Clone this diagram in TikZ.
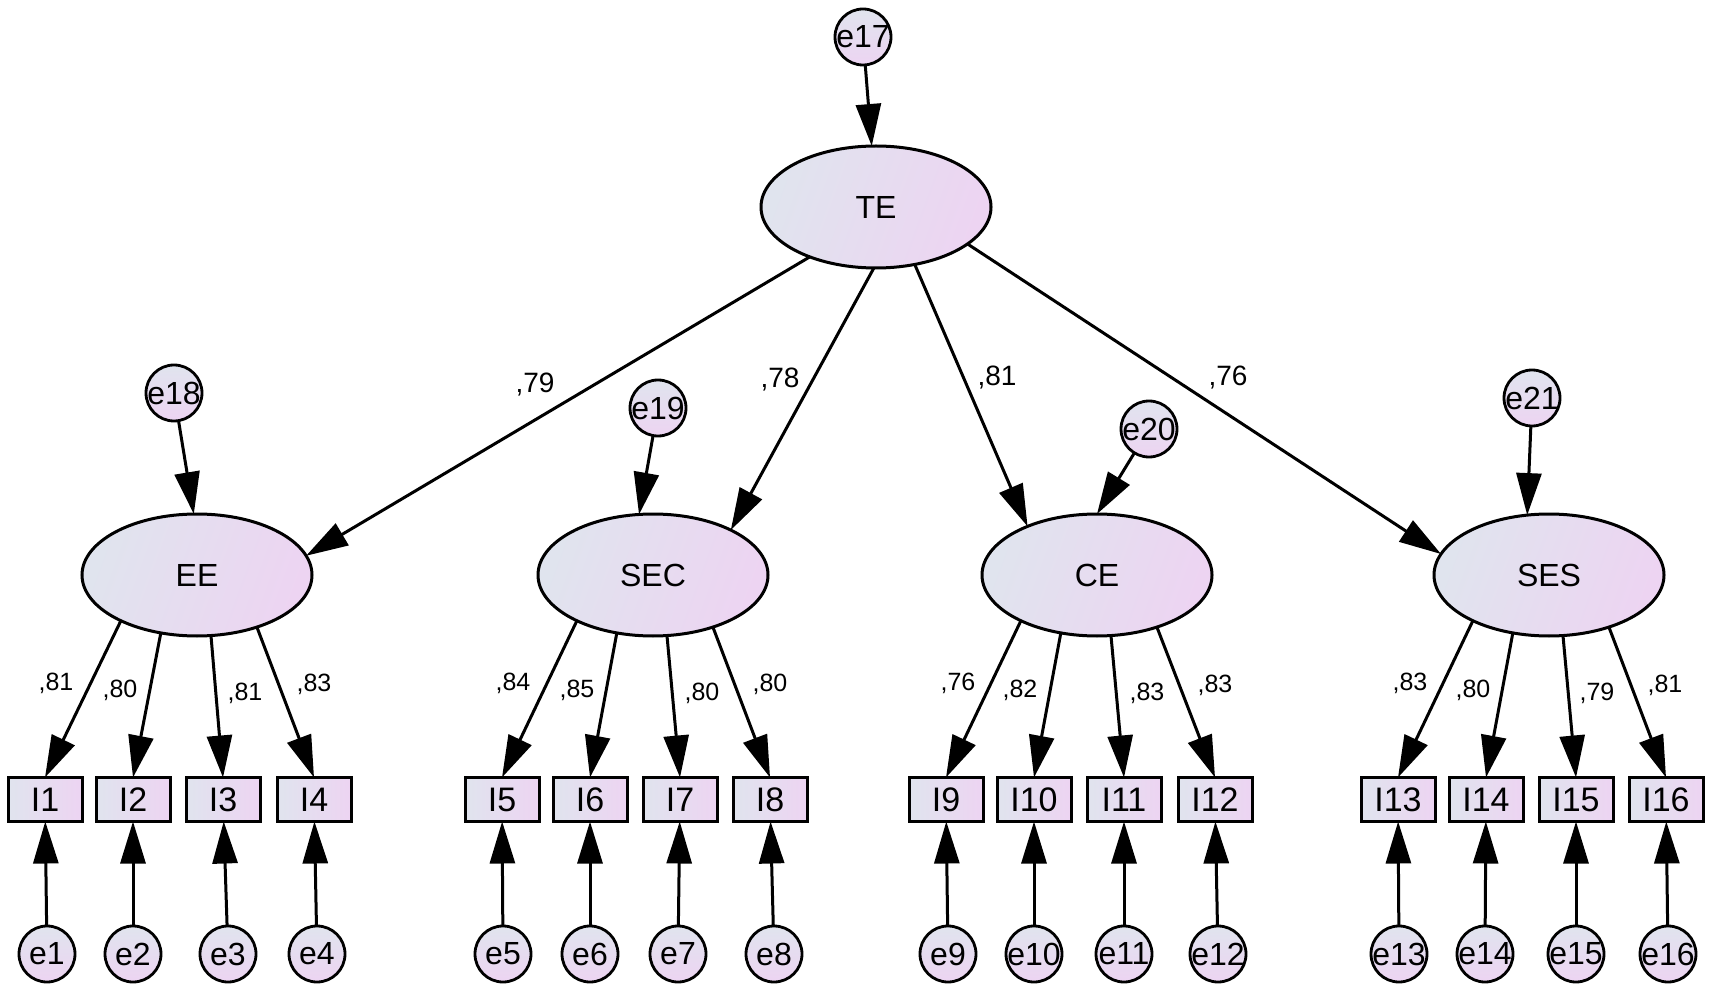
\documentclass[tikz,border=0pt]{standalone}
\usepackage{fontspec}
\setmainfont{Liberation Sans}
\usetikzlibrary{shapes.geometric,arrows.meta}
\definecolor{ltgray}{RGB}{224,228,238}
\definecolor{ltpink}{RGB}{237,212,242}
\begin{document}
\begin{tikzpicture}[x=0.5pt,y=-0.5pt,
  lat/.style={ellipse,draw,line width=1.5pt,minimum width=115pt,minimum height=61pt,inner sep=0pt,outer sep=0pt,left color=ltgray,right color=ltpink,shading angle=70,font=\fontsize{16}{16}\selectfont},
  obs/.style={rectangle,draw,line width=1.5pt,minimum width=37pt,minimum height=22pt,inner sep=0pt,outer sep=0pt,left color=ltgray,right color=ltpink,font=\fontsize{17}{17}\selectfont},
  errc/.style={circle,draw,line width=1.4pt,minimum size=28pt,inner sep=0pt,outer sep=0pt,top color=ltgray,bottom color=ltpink,font=\fontsize{16}{16}\selectfont},
  arr/.style={-{Triangle[length=21pt,width=12.5pt]},line width=1.5pt},
  lbl/.style={font=\fontsize{12.5}{12.5}\selectfont,inner sep=0pt},
  lblb/.style={font=\fontsize{14}{14}\selectfont,inner sep=0pt}]
\useasboundingbox (0,0) rectangle (1713,994);
% latent variables
\node[errc] (e17) at (863,37) {\makebox[0pt]{e17}};
\node[lat] (TE) at (876,207) {TE};
\node[errc] (e18) at (174,393) {\makebox[0pt]{e18}};
\node[errc] (e19) at (658,408) {\makebox[0pt]{e19}};
\node[errc] (e20) at (1149,429) {\makebox[0pt]{e20}};
\node[errc] (e21) at (1532,398) {\makebox[0pt]{e21}};
\node[lat] (EE) at (197,575) {EE};
\node[lat] (SEC) at (653,575) {SEC};
\node[lat] (CE) at (1097,575) {CE};
\node[lat] (SES) at (1549,575) {SES};
% indicators
\foreach \n/\x in {1/45,2/133,3/223,4/314,5/502,6/590,7/680,8/770,9/946,10/1034,11/1124,12/1215,13/1398,14/1486,15/1576,16/1666}
  \node[obs] (I\n) at (\x,799.5) {I\n};
% error terms
\foreach \n/\x in {1/47,2/133,3/228,4/317,5/503,6/590,7/678,8/774,9/948,10/1034,11/1124,12/1218,13/1399,14/1485,15/1576,16/1668}
  \node[errc] (e\n) at (\x,954) {\makebox[0pt]{e\n}};
% structural paths
\draw[arr] (e17) -- (TE.94);
\draw[arr] (TE.217) -- (EE.10);
\draw[arr] (TE.268) -- (SEC.30);
\draw[arr] (TE.304) -- (CE.145);
\draw[arr] (TE.338) -- (SES.169);
\draw[arr] (e18) -- (EE.93);
\draw[arr] (e19) -- (SEC.103);
\draw[arr] (e20) -- (CE.90);
\draw[arr] (e21) -- (SES.110);
% measurement paths
\foreach \L/\a/\b/\c/\d in {EE/1/2/3/4,SEC/5/6/7/8,CE/9/10/11/12,SES/13/14/15/16}{
  \draw[arr] (\L.211) -- (I\a.north);
  \draw[arr] (\L.238) -- (I\b.north);
  \draw[arr] (\L.283) -- (I\c.north);
  \draw[arr] (\L.319) -- (I\d.north);
}
\foreach \n in {1,...,16}
  \draw[arr] (e\n) -- (I\n);
% path labels
\node[lblb] (l79) at (535,385) {,79};
\node[lblb] (l78) at (780,380) {,78};
\node[lblb] (l81) at (997,378) {,81};
\node[lblb] (l76) at (1228,378) {,76};
\node[lbl] (a1) at (56,683) {,81};
\node[lbl] (a2) at (120,690) {,80};
\node[lbl] (a3) at (245,693) {,81};
\node[lbl] (a4) at (314,684) {,83};
\node[lbl] (a5) at (513,683) {,84};
\node[lbl] (a6) at (577,690) {,85};
\node[lbl] (a7) at (702,693) {,80};
\node[lbl] (a8) at (770,684) {,80};
\node[lbl] (a9) at (958,683) {,76};
\node[lbl] (a10) at (1020,690) {,82};
\node[lbl] (a11) at (1147,693) {,83};
\node[lbl] (a12) at (1215,685) {,83};
\node[lbl] (a13) at (1410,683) {,83};
\node[lbl] (a14) at (1473,690) {,80};
\node[lbl] (a15) at (1597,693) {,79};
\node[lbl] (a16) at (1665,685) {,81};
\end{tikzpicture}
\end{document}
